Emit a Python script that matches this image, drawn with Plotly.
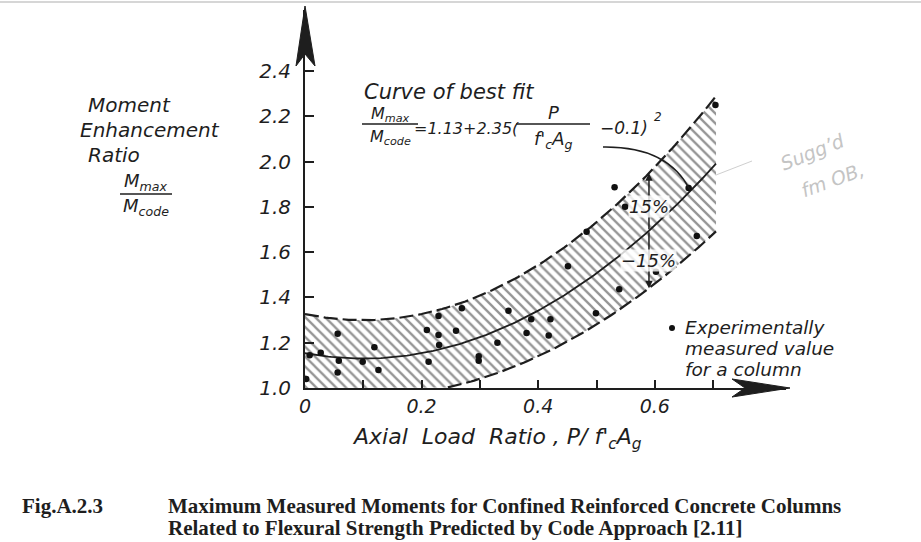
import numpy as np
import plotly.graph_objects as go

# ---------------- data ----------------
x_points = [0.002, 0.008, 0.027, 0.056, 0.058, 0.056, 0.099, 0.119, 0.126, 0.209,
            0.212, 0.229, 0.229, 0.230, 0.259, 0.269, 0.298, 0.298, 0.330, 0.349,
            0.380, 0.388, 0.418, 0.421, 0.451, 0.483, 0.499, 0.531, 0.539, 0.549,
            0.602, 0.658, 0.672, 0.704]
y_points = [1.040, 1.145, 1.156, 1.240, 1.120, 1.068, 1.116, 1.180, 1.080, 1.256,
            1.116, 1.318, 1.234, 1.190, 1.253, 1.352, 1.140, 1.120, 1.200, 1.341,
            1.243, 1.303, 1.232, 1.303, 1.537, 1.690, 1.330, 1.886, 1.436, 1.800,
            1.513, 1.883, 1.671, 2.249]

# best-fit curve constants as printed on the chart
fit_a = 1.13
fit_b = 2.35
fit_c = 0.1
band = 0.15
fit_x_end = 0.705
pct_x = 0.59

x_tickvals = [0.0, 0.1, 0.2, 0.3, 0.4, 0.5, 0.6, 0.7]
x_ticktext = ["0", "", "0.2", "", "0.4", "", "0.6", ""]
y_tickvals = [1.0, 1.2, 1.4, 1.6, 1.8, 2.0, 2.2, 2.4]
y_ticktext = ["1.0", "1.2", "1.4", "1.6", "1.8", "2.0", "2.2", "2.4"]

# ---------------- layout geometry ----------------
W, H = 921, 542
L, T = 305, 10
PW, PH = 481, 378
B = H - T - PH
R = W - L - PW
XMAX = PW / 583.0
YMAX = 1.0 + PH / 226.5


def px(x):
    return (x - L) / PW


def py(y):
    return (T + PH - y) / PH


def fit(x):
    return fit_a + fit_b * (np.asarray(x) - fit_c) ** 2


xs = np.linspace(0.0, fit_x_end, 142)
mid = fit(xs)
upper = mid * (1 + band)
lower_raw = mid * (1 - band)
lower_fill = np.maximum(lower_raw, 1.0)
mask = lower_raw >= 1.0

INK = "#1e1e1e"
SANS = "DejaVu Sans"
SERIF = "Liberation Serif"

fig = go.Figure()

# hatched band
fig.add_trace(go.Scatter(x=xs, y=lower_fill, mode="lines", line=dict(width=0),
                         hoverinfo="skip", showlegend=False))
fig.add_trace(go.Scatter(x=xs, y=upper, mode="lines", line=dict(width=0),
                         fill="tonexty", fillcolor="rgba(255,255,255,0)",
                         fillpattern=dict(shape="\\", fgcolor="#2a2a2a", bgcolor="white",
                                          size=7, solidity=0.33),
                         hoverinfo="skip", showlegend=False))
# dashed bounds
fig.add_trace(go.Scatter(x=xs, y=upper, mode="lines",
                         line=dict(color=INK, width=2.2, dash="14px,5px"),
                         hoverinfo="skip", showlegend=False))
fig.add_trace(go.Scatter(x=xs[mask], y=lower_raw[mask], mode="lines",
                         line=dict(color=INK, width=2.2, dash="14px,5px"),
                         hoverinfo="skip", showlegend=False))
# best-fit curve
fig.add_trace(go.Scatter(x=xs, y=mid, mode="lines", line=dict(color=INK, width=1.8),
                         hoverinfo="skip", showlegend=False))
# measured points
fig.add_trace(go.Scatter(x=x_points, y=y_points, mode="markers",
                         marker=dict(color="#111", size=6.5), cliponaxis=False,
                         showlegend=False))

annotations = []
shapes = []


def text(xp, yp, s, size=17, anchor="left", family=SANS, italic=True, bold=False,
         color=INK, angle=0):
    annotations.append(dict(
        x=px(xp), y=py(yp), xref="paper", yref="paper", text=s, showarrow=False,
        xanchor=anchor, yanchor="middle", textangle=angle,
        font=dict(family=family, size=size, color=color,
                  style="italic" if italic else "normal",
                  weight="bold" if bold else "normal")))


def hline(x0, x1, y, width=1.4, color=INK):
    shapes.append(dict(type="line", xref="paper", yref="paper",
                       x0=px(x0), x1=px(x1), y0=py(y), y1=py(y),
                       line=dict(color=color, width=width)))


# y-axis title
text(86, 105, "Moment", 20)
text(78, 130, "Enhancement", 20)
text(86, 155, "Ratio", 20)
text(146, 182, "M<sub>max</sub>", 18, "center")
hline(120, 172, 194)
text(146, 207, "M<sub>code</sub>", 18, "center")

# equation
text(362, 92, "Curve of best fit", 21)
text(390, 114, "M<sub>max</sub>", 16, "center")
hline(362, 418, 124)
text(390, 137, "M<sub>code</sub>", 16, "center")
text(412, 128, "=1.13+2.35(", 16)
text(553, 112, "P", 18, "center")
hline(516, 590, 124)
text(553, 140, "f'<sub>c</sub>A<sub>g</sub>", 18, "center")
text(598, 128, "\u22120.1)", 17)
text(652, 117, "2", 12)

# leader from equation to curve
shapes.append(dict(type="path", xref="paper", yref="paper",
                   path="M {} {} Q {} {} {} {}".format(px(603), py(147), px(668), py(146),
                                                       px(690), py(190)),
                   line=dict(color=INK, width=1.3)))

# +/-15 % arrows
f_pct = float(fit(pct_x))
annotations.append(dict(x=pct_x, y=f_pct * (1 + band), ax=pct_x, ay=f_pct, xref="x", yref="y",
                        axref="x", ayref="y", showarrow=True, arrowhead=2, arrowsize=1,
                        arrowwidth=1.5, arrowcolor=INK, text=""))
annotations.append(dict(x=pct_x, y=f_pct * (1 - band), ax=pct_x, ay=f_pct, xref="x", yref="y",
                        axref="x", ayref="y", showarrow=True, arrowhead=2, arrowsize=1,
                        arrowwidth=1.5, arrowcolor=INK, text=""))
annotations.append(dict(x=pct_x, y=1.80, xref="x", yref="y", text="15%", showarrow=False,
                        font=dict(family=SANS, size=18, color=INK, style="italic"),
                        bgcolor="rgba(255,255,255,0.8)", borderpad=0))
annotations.append(dict(x=pct_x, y=1.565, xref="x", yref="y", text="\u221215%", showarrow=False,
                        font=dict(family=SANS, size=18, color=INK, style="italic"),
                        bgcolor="rgba(255,255,255,0.8)", borderpad=0))

# legend note
shapes.append(dict(type="circle", xref="paper", yref="paper",
                   x0=px(669), x1=px(675), y0=py(325), y1=py(331),
                   fillcolor="#111", line=dict(width=0)))
text(683, 327, "Experimentally", 18.5)
text(683, 348, "measured value", 18.5)
text(683, 369, "for a column", 18.5)

# x-axis title
text(350, 438, "Axial  Load  Ratio , P/ f'<sub>c</sub>A<sub>g</sub>", 22)

# axis arrow heads
shapes.append(dict(type="path", xref="paper", yref="paper",
                   path="M {} {} L {} {} L {} {} L {} {} Z".format(
                       px(305), py(6), px(296), py(66), px(305), py(54), px(315), py(66)),
                   fillcolor=INK, line=dict(color=INK, width=1)))
shapes.append(dict(type="path", xref="paper", yref="paper",
                   path="M {} {} L {} {} L {} {} L {} {} Z".format(
                       px(790), py(388), px(732), py(379), px(745), py(388), px(732), py(397)),
                   fillcolor=INK, line=dict(color=INK, width=1)))

# faint handwriting
shapes.append(dict(type="line", xref="paper", yref="paper",
                   x0=px(716), y0=py(175), x1=px(752), y1=py(161),
                   line=dict(color="#cfcfcf", width=1)))
text(812, 152, "Sugg\u2019d", 19, "center", color="#c4c4c4", angle=-22)
text(832, 180, "fm OB,", 19, "center", color="#c4c4c4", angle=-20)

# top border line of the scan
shapes.append(dict(type="line", xref="paper", yref="paper",
                   x0=px(0), x1=px(921), y0=py(2), y1=py(2),
                   line=dict(color="#c8c8c8", width=1.5)))

# caption
text(20, 506, "Fig.A.2.3", 21, italic=False, bold=True, family=SERIF)
text(166, 506, "Maximum Measured Moments for Confined Reinforced Concrete Columns",
     21, italic=False, bold=True, family=SERIF)
text(166, 528, "Related to Flexural Strength Predicted by Code Approach [2.11]",
     21, italic=False, bold=True, family=SERIF)

fig.update_layout(
    width=W, height=H,
    margin=dict(l=L, r=R, t=T, b=B, pad=0),
    paper_bgcolor="white", plot_bgcolor="white",
    showlegend=False,
    annotations=annotations, shapes=shapes,
    xaxis=dict(range=[0, XMAX], tickmode="array", tickvals=x_tickvals, ticktext=x_ticktext,
               ticks="inside", ticklen=8, tickwidth=1.5, tickcolor=INK,
               showline=True, linecolor=INK, linewidth=2, showgrid=False, zeroline=False,
               tickfont=dict(family=SANS, size=19, color=INK, style="italic"),
               ticklabelstandoff=0),
    yaxis=dict(range=[1.0, YMAX], tickmode="array", tickvals=y_tickvals, ticktext=y_ticktext,
               ticks="inside", ticklen=9, tickwidth=1.5, tickcolor=INK,
               showline=True, linecolor=INK, linewidth=2, showgrid=False, zeroline=False,
               tickfont=dict(family=SANS, size=20, color=INK, style="italic"),
               ticklabelstandoff=8),
)

fig.write_html("out.html", config={"displayModeBar": False},
               post_script="document.body.style.margin='0';document.body.style.padding='0';")
